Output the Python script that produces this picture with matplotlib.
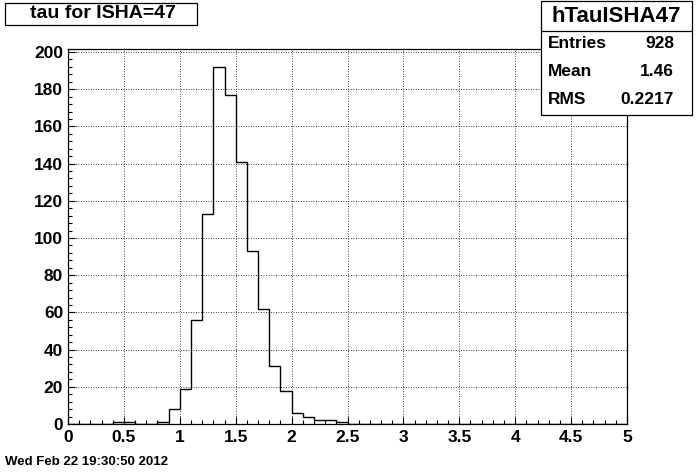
import numpy as np
import matplotlib
matplotlib.use("Agg")
import matplotlib.pyplot as plt
import matplotlib.ticker as mticker
from matplotlib.patches import Rectangle
from matplotlib.lines import Line2D

plt.rcParams['font.family'] = ['Liberation Sans', 'DejaVu Sans']
plt.rcParams['font.weight'] = 'bold'

# Histogram: 50 bins of width 0.1 from 0 to 5
bin_edges = np.linspace(0, 5, 51)
counts = [0, 0, 0, 0, 1, 1, 0, 0, 1, 8,
          19, 56, 113, 192, 177, 141, 93, 62, 31, 18,
          6, 4, 2, 2, 1, 0, 0, 0, 0, 0,
          0, 0, 0, 0, 0, 0, 0, 0, 0, 0,
          0, 0, 0, 0, 0, 0, 0, 0, 0, 0]

title = "tau for ISHA=47"
hist_name = "hTauISHA47"
stat_labels = ["Entries", "Mean", "RMS"]
stat_values = ["928", "1.46", "0.2217"]
date_text = "Wed Feb 22 19:30:50 2012"

W, H = 696, 472
fig = plt.figure(figsize=(W / 100, H / 100), dpi=100)


def fx(px):
    return px / W


def fy(py):
    return (H - py) / H


ax = fig.add_axes([fx(68), fy(424), fx(627 - 68), (424 - 49) / H])
ax.stairs(counts, bin_edges, color='black', lw=1.0)

ax.set_xlim(0, 5)
ax.set_ylim(0, 201.6)
ax.xaxis.set_major_locator(mticker.MultipleLocator(0.5))
ax.xaxis.set_minor_locator(mticker.MultipleLocator(0.1))
ax.yaxis.set_major_locator(mticker.MultipleLocator(20))
ax.yaxis.set_minor_locator(mticker.MultipleLocator(4))
ax.xaxis.set_major_formatter(mticker.FuncFormatter(lambda v, p: f"{v:g}"))

ax.tick_params(which='both', direction='in', top=False, right=False,
               width=0.8, labelsize=12.5)
ax.tick_params(which='major', length=5)
ax.tick_params(which='minor', length=2.8)
ax.tick_params(axis='x', pad=4)
ax.tick_params(axis='y', pad=3.5)
for lab in ax.get_xticklabels() + ax.get_yticklabels():
    lab.set_fontweight('bold')
for s in ax.spines.values():
    s.set_linewidth(0.9)
ax.grid(True, which='major', linestyle=(0, (1, 2)), color='black', lw=0.6)
ax.set_axisbelow(True)

# Title box
fig.patches.append(Rectangle((fx(5), fy(25)), fx(192), 22 / H, transform=fig.transFigure,
                             fill=False, edgecolor='black', lw=0.9))
fig.text(fx(103), fy(14), title, ha='center', va='center', fontsize=14, fontweight='bold')

# Stats box
fig.patches.append(Rectangle((fx(541), fy(115)), fx(151), 114 / H, transform=fig.transFigure,
                             facecolor='white', edgecolor='black', lw=0.9))
fig.lines.append(Line2D([fx(541), fx(692)], [fy(31), fy(31)], transform=fig.transFigure,
                        color='black', lw=0.9))
fig.text(fx(616), fy(16), hist_name, ha='center', va='center', fontsize=16, fontweight='bold')
for i, (lab, val) in enumerate(zip(stat_labels, stat_values)):
    yy = fy(44 + 28 * i)
    fig.text(fx(548), yy, lab, ha='left', va='center', fontsize=12.5, fontweight='bold')
    fig.text(fx(674), yy, val, ha='right', va='center', fontsize=12.5, fontweight='bold')

fig.text(fx(5), fy(462), date_text, ha='left', va='center', fontsize=9.5, fontweight='bold')

fig.savefig("out.png", dpi=100)
